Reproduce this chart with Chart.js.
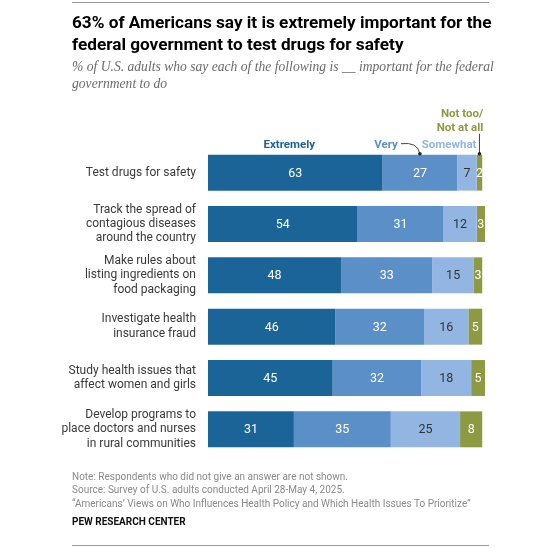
<!DOCTYPE html>
<html>
<head>
<meta charset="utf-8">
<script src="https://cdn.jsdelivr.net/npm/chart.js@4.4.1/dist/chart.umd.min.js"></script>
<style>
  body { margin: 0; background: #fff; width: 560px; height: 548px; position: relative; overflow: hidden; }
  #wrap { position: absolute; left: 0; top: 0; width: 560px; height: 548px; }
  .rule { position: absolute; left: 72px; width: 417px; height: 1px; background: #9a9a9a; }
  #title { position: absolute; left: 72px; top: 11px; width: 440px; font: bold 17.2px "Roboto", sans-serif; line-height: 22px; color: #000; }
  #sub { position: absolute; left: 72px; top: 59px; white-space: nowrap; font: italic 13.6px "Liberation Serif", serif; line-height: 16.5px; color: #6b6b6b; }
  #foot { position: absolute; left: 72px; top: 470px; font: 10px "Roboto", sans-serif; line-height: 13.3px; color: #8a8a8a; }
  #pew { position: absolute; left: 72px; top: 516px; font: bold 10px "Roboto", sans-serif; color: #111; }
</style>
</head>
<body>
<div id="wrap"><canvas id="myChart" width="560" height="548"></canvas></div>
<div class="rule" style="top:2px"></div>
<div id="title">63% of Americans say it is extremely important for the federal government to test drugs for safety</div>
<div id="sub">% of U.S. adults who say each of the following is __ important for the federal<br>government to do</div>
<div id="foot">Note: Respondents who did not give an answer are not shown.<br>Source: Survey of U.S. adults conducted April 28-May 4, 2025.<br>“Americans’ Views on Who Influences Health Policy and Which Health Issues To Prioritize”</div>
<div id="pew">PEW RESEARCH CENTER</div>
<div class="rule" style="top:545px"></div>
<script>
// categories (multi-line labels)
let categories = [
    ["Test drugs for safety"],
    ["Track the spread of", "contagious diseases", "around the country"],
    ["Make rules about", "listing ingredients on", "food packaging"],
    ["Investigate health", "insurance fraud"],
    ["Study health issues that", "affect women and girls"],
    ["Develop programs to", "place doctors and nurses", "in rural communities"]
];

let extremely = [63, 54, 48, 46, 45, 31];
let very      = [27, 31, 33, 32, 32, 35];
let somewhat  = [7, 12, 15, 16, 18, 25];
let notAtAll  = [2, 3, 3, 5, 5, 8];

let seriesNames = ["Extremely", "Very", "Somewhat", "Not too/Not at all"];
let colors = ["#1a6497", "#5b8fc8", "#92b6e1", "#8e9a41"];
let labelColors = ["#ffffff", "#ffffff", "#333333", "#ffffff"];

// draws the numbers inside the bars
const barValues = {
    id: 'barValues',
    afterDatasetsDraw(chart) {
        let ctx = chart.ctx;
        ctx.save();
        ctx.font = '12.5px Roboto, sans-serif';
        ctx.textAlign = 'center';
        ctx.textBaseline = 'middle';
        chart.data.datasets.forEach((ds, i) => {
            let meta = chart.getDatasetMeta(i);
            meta.data.forEach((bar, j) => {
                let cx = (bar.x + bar.base) / 2;
                ctx.fillStyle = labelColors[i];
                ctx.fillText(ds.data[j], cx, bar.y + 1);
            });
        });
        ctx.restore();
    }
};

// legend labels over the first bar
const topLabels = {
    id: 'topLabels',
    afterDraw(chart) {
        let ctx = chart.ctx;
        let metas = [0, 1, 2, 3].map(i => chart.getDatasetMeta(i).data[0]);
        let top = metas[0].y - metas[0].height / 2;
        let mid = b => (b.x + b.base) / 2;
        let vx = mid(metas[1]);
        let nx = mid(metas[3]);
        ctx.save();
        ctx.font = 'bold 11.5px Roboto, sans-serif';
        ctx.textBaseline = 'alphabetic';

        ctx.textAlign = 'center';
        ctx.fillStyle = colors[0];
        ctx.fillText("Extremely", mid(metas[0]) - 6, top - 7);

        ctx.textAlign = 'right';
        ctx.fillStyle = colors[1];
        ctx.fillText("Very", vx - 22, top - 7);

        ctx.fillStyle = colors[2];
        ctx.fillText("Somewhat", nx - 3, top - 7);

        ctx.fillStyle = colors[3];
        ctx.fillText("Not too/", metas[3].x + 1, top - 38);
        ctx.fillText("Not at all", metas[3].x + 1, top - 24);

        // leader for "Very"
        ctx.strokeStyle = '#444';
        ctx.fillStyle = '#222';
        ctx.lineWidth = 1;
        ctx.beginPath();
        ctx.moveTo(vx - 19, top - 11);
        ctx.quadraticCurveTo(vx - 2, top - 13, vx, top - 1);
        ctx.stroke();
        ctx.beginPath();
        ctx.arc(vx, top - 1, 1.8, 0, Math.PI * 2);
        ctx.fill();

        // leader for "Not too/Not at all"
        ctx.beginPath();
        ctx.moveTo(nx, top - 21);
        ctx.lineTo(nx, top - 1);
        ctx.stroke();
        ctx.beginPath();
        ctx.arc(nx, top - 1, 1.8, 0, Math.PI * 2);
        ctx.fill();
        ctx.restore();
    }
};

let seriesData = [extremely, very, somewhat, notAtAll];

let ctx = document.getElementById('myChart').getContext('2d');
let myChart = new Chart(ctx, {
    type: 'bar',
    data: {
        labels: categories,
        datasets: seriesData.map((d, i) => ({
            label: seriesNames[i],
            data: d,
            backgroundColor: colors[i],
            borderWidth: 0,
            barPercentage: 0.7,
            categoryPercentage: 1
        }))
    },
    options: {
        indexAxis: 'y',
        responsive: false,
        animation: false,
        layout: { padding: { top: 147, bottom: 93, left: 0, right: 75 } },
        plugins: { legend: { display: false }, tooltip: { enabled: false } },
        scales: {
            x: { stacked: true, min: 0, max: 100, display: false },
            y: {
                stacked: true,
                grid: { display: false },
                border: { display: false },
                ticks: {
                    color: '#3a3a3a',
                    font: { family: 'Roboto, sans-serif', size: 12, lineHeight: 1.2 },
                    padding: 4,
                    autoSkip: false
                },
                afterFit(scale) { scale.width = 208; }
            }
        }
    },
    plugins: [barValues, topLabels]
});
</script>
</body>
</html>
